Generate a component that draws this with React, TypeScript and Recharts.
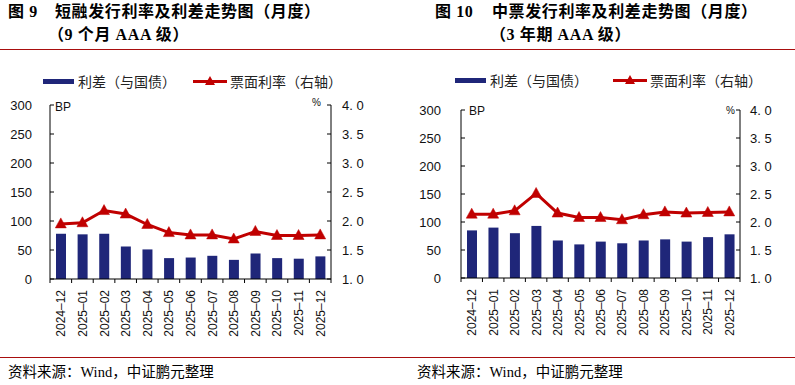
import React from 'react';
import { ComposedChart, Bar, Line, XAxis, YAxis, Legend } from 'recharts';

const months = [
  '2024–12', '2025–01', '2025–02', '2025–03', '2025–04', '2025–05', '2025–06',
  '2025–07', '2025–08', '2025–09', '2025–10', '2025–11', '2025–12',
];

// 短融 9个月 AAA
const cpSpread = [78, 77, 78, 56, 51, 36, 37, 40, 33, 44, 36, 35, 39];
const cpRate = [1.95, 1.97, 2.18, 2.12, 1.94, 1.8, 1.76, 1.76, 1.69, 1.82, 1.75, 1.75, 1.76];

// 中票 3年期 AAA
const mtnSpread = [85, 90, 80, 93, 67, 60, 65, 62, 67, 69, 65, 73, 78];
const mtnRate = [2.14, 2.14, 2.2, 2.51, 2.16, 2.08, 2.08, 2.04, 2.13, 2.18, 2.16, 2.17, 2.18];

const leftTicks = [0, 50, 100, 150, 200, 250, 300];
const rightTicks = [1, 1.5, 2, 2.5, 3, 3.5, 4];

const spreadName = '利差（与国债）';
const rateName = '票面利率（右轴）';

const NAVY = '#1f2679';
const RED = '#c00000';
const RULE = '#a80e0e';
const SANS = '"Liberation Sans", Arial, sans-serif';
const CJK = '"Noto Sans CJK SC", sans-serif';
const SERIF = '"Liberation Serif", "Noto Sans CJK SC", serif';

const H = 385;
const Y_W = 40;
const X_H = 70;

type PanelProps = {
  left: number;
  width: number;
  spread: number[];
  rate: number[];
  plotLeft: number;
  plotRight: number;
  plotTop: number;
  plotBottom: number;
  leftGap: number;
  rightGap: number;
  legendX: number[];
  legendY: number;
  bpPos: number[];
  pctPos: number[];
  figNo: string;
  figNoX: number;
  title: string;
  titleX: number;
  subtitle: string;
  subX: number;
  footX: number;
};

function Triangle(props: any) {
  const { cx, cy } = props;
  if (cx == null || cy == null) return null;
  return (
    <polygon
      points={`${cx},${cy - 6} ${cx - 5.5},${cy + 4} ${cx + 5.5},${cy + 4}`}
      fill={RED}
      stroke={RED}
      strokeWidth={0.5}
    />
  );
}

function LegendBox({ legendX }: { legendX: number[] }) {
  const textStyle: React.CSSProperties = {
    position: 'absolute',
    top: 0,
    fontFamily: CJK,
    fontSize: 14,
    lineHeight: '20px',
    color: '#222',
    whiteSpace: 'nowrap',
  };
  return (
    <div style={{ position: 'relative', width: 400, height: 20 }}>
      <div style={{ position: 'absolute', left: legendX[0], top: 8, width: 31, height: 5, background: NAVY }} />
      <span style={{ ...textStyle, left: legendX[1] }}>{spreadName}</span>
      <svg style={{ position: 'absolute', left: legendX[2], top: 0 }} width={34} height={20}>
        <line x1={0} x2={34} y1={10.5} y2={10.5} stroke={RED} strokeWidth={3} />
        <polygon points="17,5 12,14 22,14" fill={RED} />
      </svg>
      <span style={{ ...textStyle, left: legendX[3] }}>{rateName}</span>
    </div>
  );
}

function Panel(p: PanelProps) {
  const data = months.map((m, i) => ({ month: m, spread: p.spread[i], rate: p.rate[i] }));
  const bw = (p.plotRight - p.plotLeft) / months.length;

  const xTick = (t: any) => {
    const x = t.x;
    return (
      <g>
        <line x1={x - bw / 2} x2={x - bw / 2} y1={p.plotBottom} y2={p.plotBottom + 4} stroke="#000" />
        {t.index === months.length - 1 && (
          <line x1={x + bw / 2} x2={x + bw / 2} y1={p.plotBottom} y2={p.plotBottom + 4} stroke="#000" />
        )}
        <text
          transform={`translate(${x},${p.plotBottom + 11}) rotate(-90)`}
          textAnchor="end"
          dy={4.5}
          fontSize={12}
          fontFamily={SANS}
          fill="#111"
        >
          {t.payload.value}
        </text>
      </g>
    );
  };

  const leftTick = (t: any) => (
    <g>
      <line x1={p.plotLeft} x2={p.plotLeft + 4} y1={t.y} y2={t.y} stroke="#000" />
      <text x={p.plotLeft - p.leftGap} y={t.y} dy={4.5} textAnchor="end" fontSize={13} fontFamily={SANS} fill="#111">
        {t.payload.value}
      </text>
    </g>
  );

  const rightTick = (t: any) => (
    <g>
      <line x1={p.plotRight - 4} x2={p.plotRight} y1={t.y} y2={t.y} stroke="#000" />
      <text x={p.plotRight + p.rightGap} y={t.y} dy={4.5} textAnchor="start" fontSize={13} fontFamily={SANS} fill="#111">
        {Number(t.payload.value).toFixed(1).replace('.', '. ')}
      </text>
    </g>
  );

  const titleStyle: React.CSSProperties = {
    position: 'absolute',
    fontFamily: SERIF,
    fontWeight: 700,
    fontSize: 16,
    lineHeight: '20px',
    letterSpacing: 0.6,
    color: '#000',
    whiteSpace: 'nowrap',
  };

  return (
    <div style={{ position: 'absolute', left: p.left, top: 0, width: p.width, height: H }}>
      <span style={{ ...titleStyle, left: p.figNoX, top: 2 }}>{p.figNo}</span>
      <span style={{ ...titleStyle, left: p.titleX, top: 2 }}>{p.title}</span>
      <span style={{ ...titleStyle, left: p.subX, top: 25 }}>{p.subtitle}</span>
      <div style={{ position: 'absolute', left: 0, top: 49, width: p.width, height: 1, background: RULE }} />
      <div style={{ position: 'absolute', left: 0, top: 357, width: p.width, height: 1, background: RULE }} />
      <span
        style={{
          position: 'absolute',
          left: p.footX,
          top: 362,
          fontFamily: SERIF,
          fontSize: 14.5,
          lineHeight: '20px',
          color: '#000',
          whiteSpace: 'nowrap',
        }}
      >
        资料来源：Wind，中证鹏元整理
      </span>
      <ComposedChart
        width={p.width}
        height={H}
        data={data}
        barCategoryGap={0}
        margin={{
          top: p.plotTop,
          bottom: H - p.plotBottom - X_H,
          left: p.plotLeft - Y_W,
          right: p.width - p.plotRight - Y_W,
        }}
      >
        <XAxis
          dataKey="month"
          interval={0}
          height={X_H}
          tickLine={false}
          axisLine={{ stroke: '#000' }}
          tick={xTick}
        />
        <YAxis
          yAxisId="left"
          width={Y_W}
          domain={[0, 300]}
          ticks={leftTicks}
          tickLine={false}
          axisLine={{ stroke: '#000' }}
          tick={leftTick}
          label={{
            content: () => (
              <text x={p.bpPos[0]} y={p.bpPos[1]} fontSize={12} fontFamily={SANS} fill="#111">
                BP
              </text>
            ),
          }}
        />
        <YAxis
          yAxisId="right"
          orientation="right"
          width={Y_W}
          domain={[1, 4]}
          ticks={rightTicks}
          tickLine={false}
          axisLine={{ stroke: '#000' }}
          tick={rightTick}
          label={{
            content: () => (
              <text x={p.pctPos[0]} y={p.pctPos[1]} fontSize={10} fontFamily={SANS} fill="#111">
                %
              </text>
            ),
          }}
        />
        <Legend
          layout="horizontal"
          verticalAlign="middle"
          align="center"
          wrapperStyle={{ left: 0, top: p.legendY, width: 400, height: 20 }}
          content={() => <LegendBox legendX={p.legendX} />}
        />
        <Bar yAxisId="left" dataKey="spread" name={spreadName} fill={NAVY} barSize={10} isAnimationActive={false} />
        <Line
          yAxisId="right"
          dataKey="rate"
          name={rateName}
          stroke={RED}
          strokeWidth={3}
          dot={<Triangle />}
          activeDot={false}
          isAnimationActive={false}
        />
      </ComposedChart>
    </div>
  );
}

export default function App() {
  return (
    <div style={{ position: 'absolute', left: 0, top: 0, width: 795, height: H, background: '#fff', overflow: 'hidden' }}>
      <Panel
        left={0}
        width={400}
        spread={cpSpread}
        rate={cpRate}
        plotLeft={50}
        plotRight={331}
        plotTop={105}
        plotBottom={279}
        leftGap={18}
        rightGap={11}
        legendX={[43, 78, 193, 230]}
        legendY={71}
        bpPos={[55, 111]}
        pctPos={[312, 106]}
        figNo="图 9"
        figNoX={8}
        title="短融发行利率及利差走势图（月度）"
        titleX={55}
        subtitle="（9 个月 AAA 级）"
        subX={48}
        footX={8}
      />
      <Panel
        left={400}
        width={395}
        spread={mtnSpread}
        rate={mtnRate}
        plotLeft={61}
        plotRight={340}
        plotTop={110}
        plotBottom={278}
        leftGap={20}
        rightGap={10}
        legendX={[55, 90, 213, 250]}
        legendY={70}
        bpPos={[69, 115]}
        pctPos={[326, 114]}
        figNo="图 10"
        figNoX={35}
        title="中票发行利率及利差走势图（月度）"
        titleX={92}
        subtitle="（3 年期 AAA 级）"
        subX={90}
        footX={17}
      />
    </div>
  );
}
